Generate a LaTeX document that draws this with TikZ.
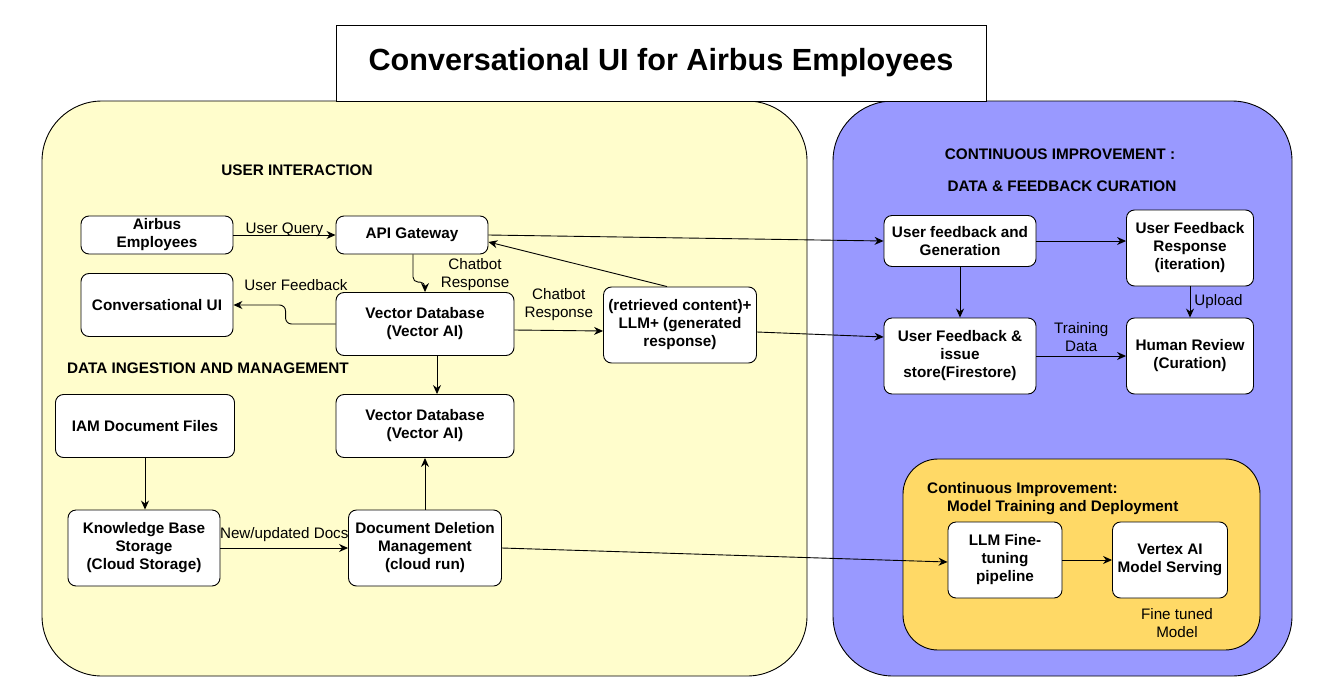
\documentclass[tikz,border=0pt]{standalone}
\usepackage{fontspec}
\setmainfont{Liberation Sans}
\usepackage{tikz}
\usetikzlibrary{positioning}
\usetikzlibrary {arrows.meta}

\definecolor{panelyellow}{HTML}{FFFDCC}
\definecolor{panelpurple}{HTML}{9999FF}
\definecolor{panelorange}{HTML}{FFD966}

\begin{document}
\begin{tikzpicture}[x=1pt,y=-1pt,
 box/.style={draw,fill=white,rounded corners=8pt,line width=0.9pt,align=center,inner sep=0pt,font=\bfseries\fontsize{15.3}{18}\selectfont},
 lbl/.style={align=center,inner sep=0pt,font=\fontsize{15.2}{18}\selectfont},
 hdr/.style={inner sep=0pt,font=\bfseries\fontsize{15.3}{18}\selectfont},
 arr/.style={-{Stealth[length=9pt,width=8pt]},line width=0.9pt}]
 \useasboundingbox (0,0) rectangle (1327,696);
 \fill[white] (0,0) rectangle (1327,696);
 % panels
 \draw[fill=panelyellow,rounded corners=60pt,line width=0.9pt] (42,101) rectangle (807,676);
 \draw[fill=panelpurple,rounded corners=60pt,line width=0.9pt] (833,101) rectangle (1292,676);
 \draw[fill=panelorange,rounded corners=35pt,line width=0.9pt] (903,459) rectangle (1260,650);
 \node[draw,fill=white,line width=0.9pt,minimum width=650pt,minimum height=76pt,font=\bfseries\fontsize{30.6}{36}\selectfont] (title) at (661,63) {Conversational UI for Airbus Employees};

 % headings
 \node[hdr] (huser) at (297,170) {USER INTERACTION};
 \node[hdr] (hdata) at (208,368) {DATA INGESTION AND MANAGEMENT};
 \node[hdr] (hcont) at (1060,154) {CONTINUOUS IMPROVEMENT :};
 \node[hdr] (hcur) at (1062,186) {DATA \& FEEDBACK CURATION};
 \node[hdr,anchor=west] (hmod) at (927,490) {Continuous Improvement:};
 \node[hdr,anchor=west] (hmod2) at (947,508) {Model Training and Deployment};

 % user interaction
 \node[box,minimum width=152pt,minimum height=38pt] (airbus) at (157,235) {Airbus\\Employees};
 \node[box,minimum width=152pt,minimum height=38pt] (api) at (412,235) {API Gateway};
 \node[box,minimum width=152pt,minimum height=63pt] (cui) at (157,305) {Conversational UI};
 \node[box,minimum width=178pt,minimum height=63pt] (vdb) at (425,324) {Vector Database\\(Vector AI)};
 \node[box,minimum width=153pt,minimum height=76pt] (llm) at (680,325) {(retrieved content)+\\LLM+ (generated\\response)};

 % data ingestion
 \node[box,minimum width=179pt,minimum height=63pt] (iam) at (145,426) {IAM Document Files};
 \node[box,minimum width=178pt,minimum height=63pt] (vdbb) at (425,426) {Vector Database\\(Vector AI)};
 \node[box,minimum width=152pt,minimum height=76pt] (kb) at (144,548) {Knowledge Base\\Storage\\(Cloud Storage)};
 \node[box,minimum width=153pt,minimum height=76pt] (ddm) at (425,548) {Document Deletion\\Management\\(cloud run)};

 % curation
 \node[box,minimum width=152pt,minimum height=51pt] (ufg) at (960,241) {User feedback and\\Generation};
 \node[box,minimum width=127pt,minimum height=76pt] (ufr) at (1190,248) {User Feedback\\Response\\(iteration)};
 \node[box,minimum width=152pt,minimum height=76pt] (ufs) at (960,356) {User Feedback \&\\issue\\store(Firestore)};
 \node[box,minimum width=127pt,minimum height=76pt] (hr) at (1190,356) {Human Review\\(Curation)};

 % model training
 \node[box,minimum width=114pt,minimum height=76pt] (ft) at (1005,560) {LLM Fine-\\tuning\\pipeline};
 \node[box,minimum width=115pt,minimum height=76pt] (vx) at (1170,560) {Vertex AI\\Model Serving};
 \node[lbl] (ftm) at (1177,623) {Fine tuned\\Model};

 % connectors
 \draw[arr] (airbus) -- node[lbl,above=-2pt] (lquery) {User Query} (api);
 \draw[arr] (api.east) -- (ufg.west);
 \draw[arr,rounded corners=5pt] ([xshift=1pt]api.south) |- ([yshift=10pt]vdb.north) -- (vdb.north);
 \node[lbl] (lchat1) at (475,275) {Chatbot\\Response};
 \draw[arr] ([xshift=-13pt]llm.north) -- ([yshift=-7pt]api.east);
 \draw[arr] ([yshift=-6pt]vdb.east) -- node[lbl,above=9pt] (lchat2) {Chatbot\\Response} ([yshift=-6pt]llm.west);
 \draw[arr,rounded corners=6pt] (vdb.west) -- ++(-50,0) |- (cui.east);
 \node[lbl] (lfb) at (296,285) {User Feedback};
 \draw[arr] ([xshift=12pt]vdb.south) -- ([xshift=12pt]vdbb.north);
 \draw[arr] ([yshift=-7pt]llm.east) -- ([yshift=19pt]ufs.west);
 \draw[arr] (iam.south) -- (iam.south |- kb.north);
 \draw[arr] (kb) -- node[lbl,above=6pt] (ldocs) {New/updated Docs} (ddm);
 \draw[arr] (ddm) -- (vdbb);
 \draw[arr] (ddm.east) -- ([yshift=-2pt]ft.west);
 \draw[arr] (ufg.east) -- (ufg.east -| ufr.west);
 \draw[arr] (ufg) -- (ufs);
 \draw[arr] (ufr) -- node[lbl,right=4pt] (lup) {Upload} (hr);
 \draw[arr] (ufs) -- node[lbl,above=4pt] (ltrain) {Training\\Data} (hr);
 \draw[arr] (ft) -- (vx);
\end{tikzpicture}
\end{document}
